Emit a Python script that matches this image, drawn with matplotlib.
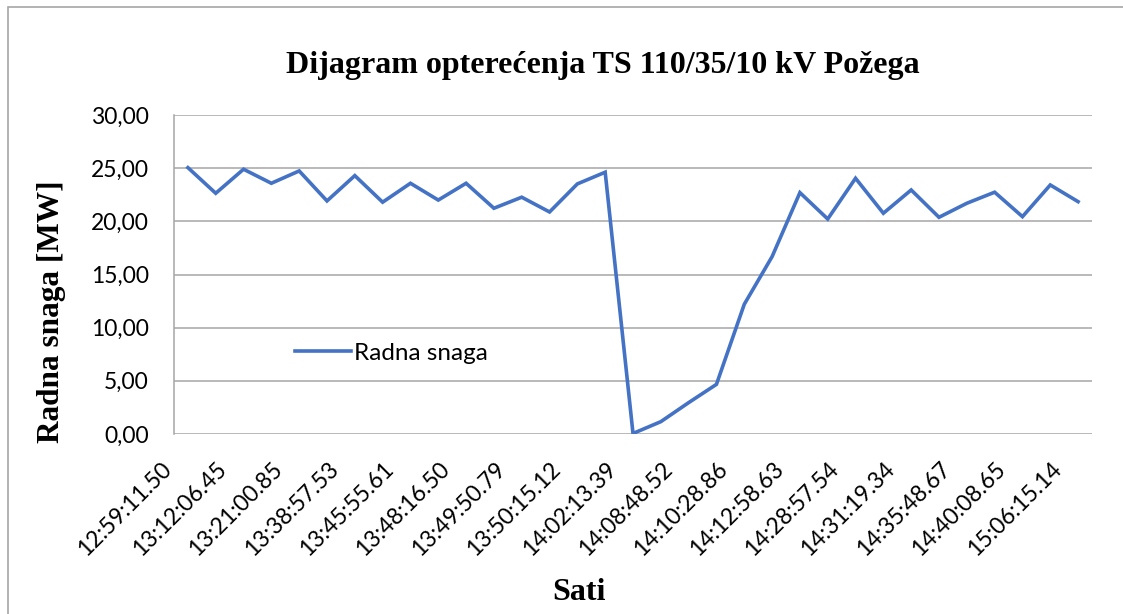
import numpy as np
import matplotlib
matplotlib.use("Agg")
import matplotlib.pyplot as plt
from matplotlib.patches import Rectangle
from matplotlib.ticker import FuncFormatter
from matplotlib.transforms import ScaledTranslation

# oznake na osi x (svaka druga kategorija)
tick_labels = ["12:59:11.50", "13:12:06.45", "13:21:00.85", "13:38:57.53",
               "13:45:55.61", "13:48:16.50", "13:49:50.79", "13:50:15.12",
               "14:02:13.39", "14:08:48.52", "14:10:28.86", "14:12:58.63",
               "14:28:57.54", "14:31:19.34", "14:35:48.67", "14:40:08.65",
               "15:06:15.14"]
# radna snaga [MW]
radna_snaga = [25.05, 22.64, 24.90, 23.58, 24.74, 21.92, 24.30, 21.80,
               23.58, 22.00, 23.58, 21.23, 22.27, 20.88, 23.52, 24.62,
               0.05, 1.16, 2.95, 4.67, 12.20, 16.68, 22.70, 20.22,
               24.05, 20.76, 22.95, 20.38, 21.70, 22.74, 20.44, 23.42,
               21.85]

W, H = 1123, 614
fig = plt.figure(figsize=(W / 100, H / 100), dpi=100)
ax = fig.add_axes([174 / W, 1 - 434 / H, (1092 - 174) / W, (434 - 115) / H])

x = np.arange(len(radna_snaga))
ax.plot(x, radna_snaga, color="#4472C4", lw=2.6, label="Radna snaga",
        solid_joinstyle="miter")

ax.set_xlim(-0.5, len(radna_snaga) - 0.5)
ax.set_ylim(0, 30)
ax.set_yticks(np.arange(0, 31, 5))
ax.yaxis.set_major_formatter(FuncFormatter(lambda v, p: f"{v:.2f}".replace(".", ",")))
ax.grid(axis="y", color="#a6a6a6", lw=1.1)
ax.set_axisbelow(True)

ax.tick_params(axis="both", length=0)
ax.tick_params(axis="y", pad=18)
ax.tick_params(axis="x", pad=14)
ax.set_xticks(x[::2])
ax.set_xticklabels(tick_labels, rotation=45, ha="right", va="center",
                   rotation_mode="anchor", family="Lato", fontsize=16.5)
for lab in ax.get_yticklabels():
    lab.set_family("Lato")
    lab.set_fontsize(16.5)
# pomak oznaka na x osi kao u Excelu
shift = ScaledTranslation(-20 / 100, -12 / 100, fig.dpi_scale_trans)
for lab in ax.get_xticklabels():
    lab.set_transform(lab.get_transform() + shift)

for s in ["top", "right", "bottom"]:
    ax.spines[s].set_visible(False)
ax.spines["left"].set_color("#a6a6a6")
ax.spines["left"].set_linewidth(1.1)

leg = ax.legend(loc="center left", bbox_to_anchor=((295 - 174) / 918, (434 - 353) / 319),
                frameon=False, borderpad=0, borderaxespad=0, handlelength=2.3,
                handletextpad=0.12, prop={"family": "Lato", "size": 17.5})

fig.text(603 / W, 1 - 65 / H, "Dijagram opterećenja TS 110/35/10 kV Požega",
         ha="center", va="center", family="Liberation Serif", weight="bold", fontsize=23)
fig.text(52 / W, 1 - 312 / H, "Radna snaga [MW]", ha="center", va="center",
         rotation=90, family="Liberation Serif", weight="bold", fontsize=22.5)
fig.text(579 / W, 1 - 592 / H, "Sati", ha="center", va="center",
         family="Liberation Serif", weight="bold", fontsize=23)

fig.patches.append(Rectangle((7.5 / W, -0.1), 2, 1.1 - 7.5 / H, transform=fig.transFigure,
                             fill=False, edgecolor="#a6a6a6", lw=1.2))

fig.savefig("out.png", dpi=100)
